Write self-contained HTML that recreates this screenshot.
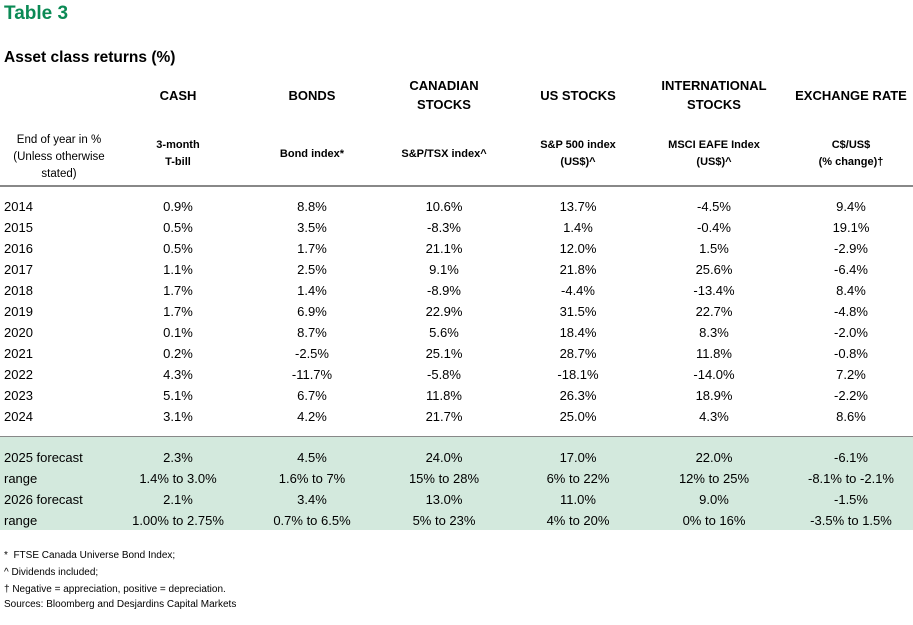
<!DOCTYPE html>
<html><head><meta charset="utf-8"><style>
body{margin:0;background:#fff;width:913px;height:625px;position:relative;overflow:hidden;font-family:"Liberation Sans",sans-serif;color:#000}
div{position:absolute;white-space:nowrap}
.t{left:4px;top:3px;font-size:19px;font-weight:bold;color:#0b8a55}
.s{left:4px;top:49px;font-size:15.5px;font-weight:bold}
.h{font-size:13px;font-weight:bold;text-align:center;width:160px;line-height:19px}
.sh{font-size:11px;font-weight:bold;text-align:center;width:160px;line-height:17px}
.c{font-size:13px;text-align:center;width:160px;line-height:21px}
.l{left:4px;font-size:13px;line-height:21px}
.fn{left:4px;font-size:10px}
</style></head><body>
<div class="t">Table 3</div>
<div class="s">Asset class returns (%)</div>
<div class="h" style="left:98px;top:86px">CASH</div>
<div class="h" style="left:232px;top:86px">BONDS</div>
<div class="h" style="left:364px;top:76px">CANADIAN<br>STOCKS</div>
<div class="h" style="left:498px;top:86px">US STOCKS</div>
<div class="h" style="left:634px;top:76px">INTERNATIONAL<br>STOCKS</div>
<div class="h" style="left:771px;top:86px">EXCHANGE RATE</div>
<div style="left:0;width:118px;text-align:center;top:132px;font-size:11.5px;line-height:17px">End of year in %<br>(Unless otherwise<br>stated)</div>
<div class="sh" style="left:98px;top:137px">3-month<br>T-bill</div>
<div class="sh" style="left:232px;top:146px">Bond index*</div>
<div class="sh" style="left:364px;top:146px">S&amp;P/TSX index^</div>
<div class="sh" style="left:498px;top:137px">S&amp;P 500 index<br>(US$)^</div>
<div class="sh" style="left:634px;top:137px">MSCI EAFE Index<br>(US$)^</div>
<div class="sh" style="left:771px;top:137px">C$/US$<br>(% change)†</div>
<div style="left:0;top:185px;width:913px;height:2px;background:#888"></div>
<div style="left:0;top:436px;width:913px;height:1px;background:#888"></div>
<div style="left:0;top:437px;width:913px;height:93px;background:#d3e9dd"></div>
<div class="l" style="top:196px">2014<br>2015<br>2016<br>2017<br>2018<br>2019<br>2020<br>2021<br>2022<br>2023<br>2024</div>
<div class="c" style="left:98px;top:196px">0.9%<br>0.5%<br>0.5%<br>1.1%<br>1.7%<br>1.7%<br>0.1%<br>0.2%<br>4.3%<br>5.1%<br>3.1%</div>
<div class="c" style="left:232px;top:196px">8.8%<br>3.5%<br>1.7%<br>2.5%<br>1.4%<br>6.9%<br>8.7%<br>-2.5%<br>-11.7%<br>6.7%<br>4.2%</div>
<div class="c" style="left:364px;top:196px">10.6%<br>-8.3%<br>21.1%<br>9.1%<br>-8.9%<br>22.9%<br>5.6%<br>25.1%<br>-5.8%<br>11.8%<br>21.7%</div>
<div class="c" style="left:498px;top:196px">13.7%<br>1.4%<br>12.0%<br>21.8%<br>-4.4%<br>31.5%<br>18.4%<br>28.7%<br>-18.1%<br>26.3%<br>25.0%</div>
<div class="c" style="left:634px;top:196px">-4.5%<br>-0.4%<br>1.5%<br>25.6%<br>-13.4%<br>22.7%<br>8.3%<br>11.8%<br>-14.0%<br>18.9%<br>4.3%</div>
<div class="c" style="left:771px;top:196px">9.4%<br>19.1%<br>-2.9%<br>-6.4%<br>8.4%<br>-4.8%<br>-2.0%<br>-0.8%<br>7.2%<br>-2.2%<br>8.6%</div>
<div class="l" style="top:447px">2025 forecast<br>range<br>2026 forecast<br>range</div>
<div class="c" style="left:98px;top:447px">2.3%<br>1.4% to 3.0%<br>2.1%<br>1.00% to 2.75%</div>
<div class="c" style="left:232px;top:447px">4.5%<br>1.6% to 7%<br>3.4%<br>0.7% to 6.5%</div>
<div class="c" style="left:364px;top:447px">24.0%<br>15% to 28%<br>13.0%<br>5% to 23%</div>
<div class="c" style="left:498px;top:447px">17.0%<br>6% to 22%<br>11.0%<br>4% to 20%</div>
<div class="c" style="left:634px;top:447px">22.0%<br>12% to 25%<br>9.0%<br>0% to 16%</div>
<div class="c" style="left:771px;top:447px">-6.1%<br>-8.1% to -2.1%<br>-1.5%<br>-3.5% to 1.5%</div>
<div class="fn" style="top:550px">*&nbsp; FTSE Canada Universe Bond Index;</div>
<div class="fn" style="top:567px">^ Dividends included;</div>
<div class="fn" style="top:584px">† Negative = appreciation, positive = depreciation.</div>
<div class="fn" style="top:599px">Sources: Bloomberg and Desjardins Capital Markets</div>
</body></html>
